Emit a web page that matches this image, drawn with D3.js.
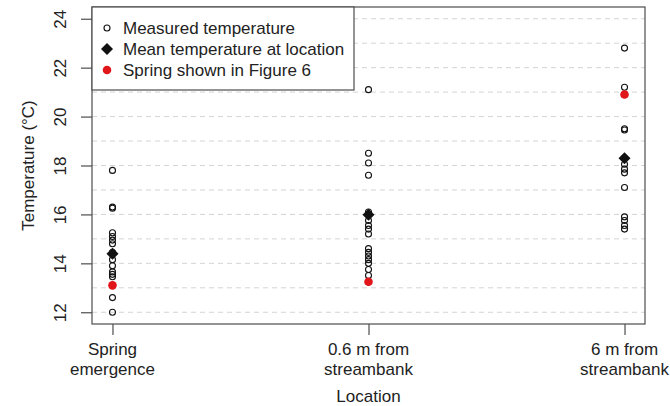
<!DOCTYPE html>
<html>
<head>
<meta charset="utf-8">
<script src="https://cdn.jsdelivr.net/npm/d3@7"></script>
<style>
  body { margin: 0; background: #fff; }
  svg { font-family: "Liberation Sans", Arial, sans-serif; }
</style>
</head>
<body>
<div id="chart"></div>
<script>
// categories on the x axis (each label is two lines)
const locations = [
  ["Spring", "emergence"],
  ["0.6 m from", "streambank"],
  ["6 m from", "streambank"]
];

// measured temperatures at each location (°C)
const springTemps = [17.8, 16.3, 16.25, 15.25, 15.1, 14.95, 14.8, 14.45, 14.15, 13.9, 13.65, 13.55, 13.45, 13.1, 12.6, 12.0];
const midTemps = [21.1, 18.5, 18.1, 17.6, 16.1, 16.0, 15.75, 15.55, 15.4, 15.2, 14.6, 14.45, 14.3, 14.15, 14.0, 13.75, 13.5, 13.25];
const farTemps = [22.8, 21.2, 20.9, 19.5, 19.45, 18.3, 18.05, 17.85, 17.7, 17.1, 15.9, 15.75, 15.55, 15.4];

const meanTemps = [14.39, 15.99, 18.3];
const figure6Temps = [13.1, 13.25, 20.9];

const yTicks = [12, 14, 16, 18, 20, 22, 24];
const legendLabels = ["Measured temperature", "Mean temperature at location", "Spring shown in Figure 6"];

const width = 670, height = 406;
const margin = { top: 7, right: 25, bottom: 82, left: 92 };
const red = "#e0161b";
const axisColor = "#4d4d4d";

const svg = d3.select("#chart").append("svg")
  .attr("width", width)
  .attr("height", height)
  .style("font-size", "17px");

const keys = locations.map(d => d.join(" "));

const x = d3.scalePoint()
  .domain(keys)
  .range([margin.left, width - margin.right])
  .padding(0.08);

const y = d3.scaleLinear()
  .domain([11.52, 24.48])
  .range([height - margin.bottom, margin.top]);

// dashed horizontal grid at every degree
svg.append("g")
  .selectAll("line")
  .data(d3.range(12, 25))
  .join("line")
  .attr("x1", margin.left)
  .attr("x2", width - margin.right)
  .attr("y1", d => y(d))
  .attr("y2", d => y(d))
  .attr("stroke", "#d4d4d4")
  .attr("stroke-width", 1)
  .attr("stroke-dasharray", "5,4");

// measured points
const measured = [springTemps, midTemps, farTemps].flatMap((arr, i) =>
  arr.map(v => ({ loc: keys[i], v })));

svg.append("g")
  .selectAll("circle")
  .data(measured)
  .join("circle")
  .attr("cx", d => x(d.loc))
  .attr("cy", d => y(d.v))
  .attr("r", 3)
  .attr("fill", "none")
  .attr("stroke", "#111")
  .attr("stroke-width", 1.1);

// means as diamonds
const diamond = d3.symbol().type(d3.symbolSquare).size(72);
svg.append("g")
  .selectAll("path")
  .data(meanTemps)
  .join("path")
  .attr("d", diamond)
  .attr("transform", (d, i) => `translate(${x(keys[i])},${y(d)}) rotate(45)`)
  .attr("fill", "#111");

// springs shown in Figure 6
svg.append("g")
  .selectAll("circle")
  .data(figure6Temps)
  .join("circle")
  .attr("cx", (d, i) => x(keys[i]))
  .attr("cy", d => y(d))
  .attr("r", 4.3)
  .attr("fill", red);

// plot frame
svg.append("rect")
  .attr("x", margin.left)
  .attr("y", margin.top)
  .attr("width", width - margin.left - margin.right)
  .attr("height", height - margin.top - margin.bottom)
  .attr("fill", "none")
  .attr("stroke", axisColor)
  .attr("stroke-width", 1.2);

// y axis
const yAxis = svg.append("g")
  .attr("transform", `translate(${margin.left},0)`)
  .call(d3.axisLeft(y).tickValues(yTicks).tickSize(11).tickSizeOuter(0));
yAxis.select(".domain").remove();
yAxis.selectAll("line").attr("stroke", axisColor).attr("stroke-width", 1.2);
yAxis.selectAll("text")
  .attr("x", null).attr("dy", null)
  .attr("text-anchor", "middle")
  .attr("transform", "translate(-26,0) rotate(-90)")
  .attr("fill", "#222")
  .style("font-size", "17px")
  .style("font-family", "Liberation Sans, Arial, sans-serif");

// x axis
const xAxis = svg.append("g")
  .attr("transform", `translate(0,${height - margin.bottom})`)
  .call(d3.axisBottom(x).tickSize(11).tickSizeOuter(0).tickFormat(""));
xAxis.select(".domain").remove();
xAxis.selectAll("line").attr("stroke", axisColor).attr("stroke-width", 1.2);

svg.append("g")
  .selectAll("text")
  .data(locations)
  .join("text")
  .attr("text-anchor", "middle")
  .attr("fill", "#222")
  .selectAll("tspan")
  .data((d, i) => d.map((line, j) => ({ line, j, i })))
  .join("tspan")
  .attr("x", d => x(keys[d.i]))
  .attr("y", d => 355 + d.j * 19.5)
  .text(d => d.line);

// axis titles
svg.append("text")
  .attr("x", x(keys[1]))
  .attr("y", 402)
  .attr("text-anchor", "middle")
  .attr("fill", "#222")
  .text("Location");

svg.append("text")
  .attr("transform", `translate(34,${(margin.top + height - margin.bottom) / 2}) rotate(-90)`)
  .attr("text-anchor", "middle")
  .attr("fill", "#222")
  .text("Temperature (°C)");

// legend
const legend = svg.append("g");
legend.append("rect")
  .attr("x", margin.left)
  .attr("y", margin.top)
  .attr("width", 262)
  .attr("height", 83)
  .attr("fill", "#fff")
  .attr("stroke", axisColor)
  .attr("stroke-width", 1.2);

const ly = [28, 49, 70];
legend.append("circle")
  .attr("cx", 107).attr("cy", ly[0]).attr("r", 3)
  .attr("fill", "none").attr("stroke", "#111").attr("stroke-width", 1.1);
legend.append("path")
  .attr("d", diamond)
  .attr("transform", `translate(107,${ly[1]}) rotate(45)`)
  .attr("fill", "#111");
legend.append("circle")
  .attr("cx", 107).attr("cy", ly[2]).attr("r", 4.3)
  .attr("fill", red);

legend.selectAll("text.lab")
  .data(legendLabels)
  .join("text")
  .attr("class", "lab")
  .attr("x", 123)
  .attr("y", (d, i) => ly[i])
  .attr("dy", "0.35em")
  .attr("fill", "#222")
  .text(d => d);
</script>
</body>
</html>
